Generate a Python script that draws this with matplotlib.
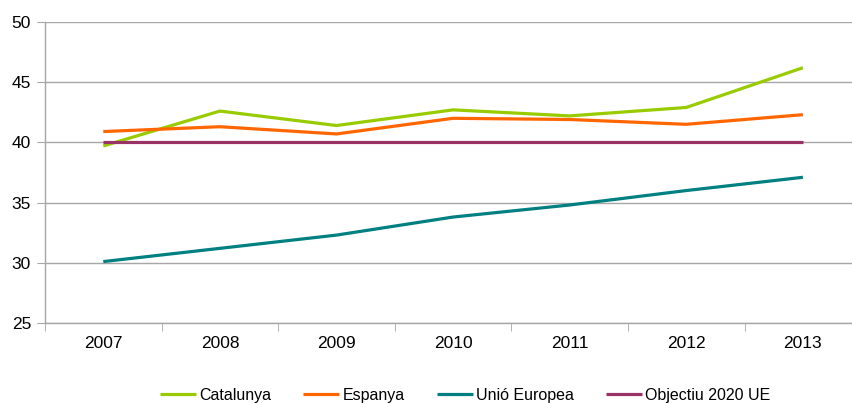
import matplotlib
matplotlib.use("Agg")
import matplotlib.pyplot as plt
import numpy as np

years = ["2007", "2008", "2009", "2010", "2011", "2012", "2013"]
catalunya = [39.7, 42.6, 41.4, 42.7, 42.2, 42.9, 46.2]
espanya = [40.9, 41.3, 40.7, 42.0, 41.9, 41.5, 42.3]
unio_europea = [30.1, 31.2, 32.3, 33.8, 34.8, 36.0, 37.1]
objectiu = [40, 40, 40, 40, 40, 40, 40]

series = [
    ("Catalunya", catalunya, "#99CC00"),
    ("Espanya", espanya, "#FF6600"),
    ("Unió Europea", unio_europea, "#008080"),
    ("Objectiu 2020 UE", objectiu, "#993366"),
]

plt.rcParams["font.family"] = ["Liberation Sans", "DejaVu Sans"]

fig = plt.figure(figsize=(8.52, 4.03), dpi=100)
ax = fig.add_axes([0.0528, 0.1985, 0.958, 0.747])

x = np.arange(len(years))
for name, vals, col in series:
    ax.plot(x, vals, color=col, lw=2.3, label=name, solid_capstyle="butt", zorder=3)

ax.set_xlim(-0.5, len(years) - 0.5)
ax.set_ylim(25, 50)
ax.set_yticks(range(25, 51, 5))
ax.set_xticks(x)
ax.set_xticklabels(years)
ax.set_xticks(np.arange(-0.5, len(years)), minor=True)

ax.grid(axis="y", color="#A6A6A6", lw=1.0, zorder=0)
for s in ["top", "right"]:
    ax.spines[s].set_visible(False)
for s in ["left", "bottom"]:
    ax.spines[s].set_color("#A6A6A6")
    ax.spines[s].set_linewidth(1.0)

ax.tick_params(axis="y", direction="out", length=6, color="#A6A6A6", labelsize=12.5, pad=4)
ax.tick_params(axis="x", which="major", length=0, labelsize=12.5, pad=9)
ax.tick_params(axis="x", which="minor", direction="out", length=6, color="#A6A6A6")

fig.legend(loc="lower center", bbox_to_anchor=(0.546, -0.035), ncol=4, frameon=False,
           fontsize=11.5, handlelength=2.25, columnspacing=2.0, handletextpad=0.2)

fig.savefig("out.png", dpi=100)
